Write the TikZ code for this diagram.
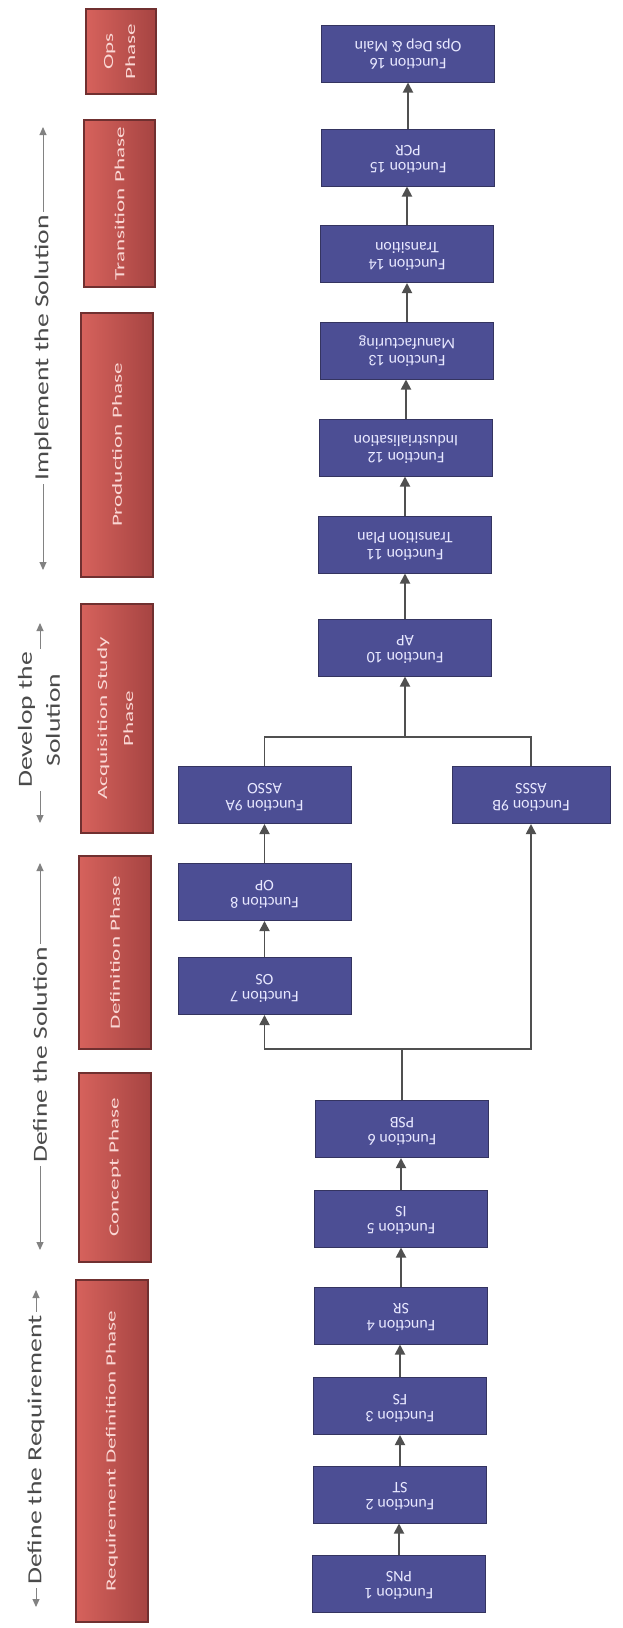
\documentclass[tikz,border=0pt]{standalone}
\usepackage{graphicx}
\usepackage{fontspec}
\setmainfont{Carlito}
\usetikzlibrary{arrows.meta}
\definecolor{fnblue}{RGB}{76,78,148}
\definecolor{fnedge}{RGB}{52,52,96}
\definecolor{fntext}{RGB}{232,232,255}
\definecolor{phlight}{RGB}{214,98,92}
\definecolor{phdark}{RGB}{166,68,66}
\definecolor{phedge}{RGB}{112,48,48}
\definecolor{phtext}{RGB}{250,215,212}
\definecolor{conncol}{RGB}{80,80,80}
\definecolor{seccol}{RGB}{75,75,75}
\definecolor{secline}{RGB}{130,130,130}
\newcommand{\fntxt}[2]{\rotatebox{180}{\begin{tabular}{@{}c@{}}#1\\#2\end{tabular}}}
\newcommand{\phtxt}[1]{\rotatebox{90}{\scalebox{1.65}[1]{#1}}}
\newcommand{\sectxt}[1]{\rotatebox{90}{\scalebox{1.38}[1]{#1}}}
\begin{document}
\begin{tikzpicture}[x=1pt,y=-1pt,
  fnbox/.style={draw=fnedge, fill=fnblue, line width=1pt, minimum width=173pt, minimum height=57pt, inner sep=0pt, text=fntext, font=\fontsize{16}{17}\selectfont},
  phbox/.style={draw=phedge, line width=1.2pt, left color=phlight, right color=phdark, inner sep=0pt, text=phtext, font=\fontsize{14}{16}\selectfont},
  seclabel/.style={fill=white, text=seccol, inner sep=3pt, font=\fontsize{20}{24}\selectfont},
  secarrow/.style={draw=secline, line width=1pt, {Triangle[length=8pt,width=7pt]}-{Triangle[length=8pt,width=7pt]}},
  conn/.style={draw=conncol, line width=1.8pt, -{Triangle[length=10pt,width=10pt]}},
  link/.style={draw=conncol, line width=1.8pt}]
\fill[white] (0,0) rectangle (622,1628);
\useasboundingbox (0,0) rectangle (622,1628);

% phase boxes
\node[phbox, minimum width=70pt, minimum height=85pt] (P7) at (121,51.5) {\phtxt{\begin{tabular}{@{}c@{}}Ops\\[6pt]Phase\end{tabular}}};
\node[phbox, minimum width=71pt, minimum height=167pt] (P6) at (119.5,203.5) {\phtxt{Transition Phase}};
\node[phbox, minimum width=72pt, minimum height=264pt] (P5) at (117,445) {\phtxt{Production Phase}};
\node[phbox, minimum width=72pt, minimum height=229pt] (P4) at (117,718.5) {\phtxt{\begin{tabular}{@{}c@{}}Acquisition Study\\[10pt]Phase\end{tabular}}};
\node[phbox, minimum width=72pt, minimum height=193pt] (P3) at (115,952.5) {\phtxt{Definition Phase}};
\node[phbox, minimum width=72pt, minimum height=189pt] (P2) at (115,1167.5) {\phtxt{Concept Phase}};
\node[phbox, minimum width=72pt, minimum height=342pt] (P1) at (112,1451) {\phtxt{Requirement Definition Phase}};

% section labels
\coordinate (S4t) at (43,127); \coordinate (S4b) at (43,570);
\draw[secarrow] (S4t) -- (S4b);
\node[seclabel] (S4) at (43,348) {\sectxt{Implement the Solution}};
\coordinate (S3t) at (40,623); \coordinate (S3b) at (40,823);
\draw[secarrow] (S3t) -- (S3b);
\node[seclabel] (S3) at (41,720) {\sectxt{\begin{tabular}{@{}c@{}}Develop the\\[4pt]Solution\end{tabular}}};
\coordinate (S2t) at (40,863); \coordinate (S2b) at (40,1250);
\draw[secarrow] (S2t) -- (S2b);
\node[seclabel] (S2) at (40,1055) {\sectxt{Define the Solution}};
\coordinate (S1t) at (36,1290); \coordinate (S1b) at (36,1607);
\draw[secarrow] (S1t) -- (S1b);
\node[seclabel] (S1) at (36,1450) {\sectxt{Define the Requirement}};

% function boxes
\node[fnbox] (F16) at (408,53.5) {\fntxt{Function 16}{Ops Dep \& Main}};
\node[fnbox] (F15) at (408,157.5) {\fntxt{Function 15}{PCR}};
\node[fnbox] (F14) at (407,254) {\fntxt{Function 14}{Transition}};
\node[fnbox] (F13) at (407,350.5) {\fntxt{Function 13}{Manufacturing}};
\node[fnbox] (F12) at (406,447.5) {\fntxt{Function 12}{Industrialisation}};
\node[fnbox] (F11) at (405,544.5) {\fntxt{Function 11}{Transition Plan}};
\node[fnbox] (F10) at (405,647.5) {\fntxt{Function 10}{AP}};
\node[fnbox] (F9A) at (264.5,795) {\fntxt{Function 9A}{ASSO}};
\node[fnbox, minimum width=158pt] (F9B) at (531,795) {\fntxt{Function 9B}{ASSS}};
\node[fnbox] (F8) at (264.5,892) {\fntxt{Function 8}{OP}};
\node[fnbox] (F7) at (264.5,986) {\fntxt{Function 7}{OS}};
\node[fnbox] (F6) at (402,1129) {\fntxt{Function 6}{PSB}};
\node[fnbox] (F5) at (401,1218.5) {\fntxt{Function 5}{IS}};
\node[fnbox] (F4) at (401,1315.5) {\fntxt{Function 4}{SR}};
\node[fnbox] (F3) at (400,1406) {\fntxt{Function 3}{FS}};
\node[fnbox] (F2) at (400,1494.5) {\fntxt{Function 2}{ST}};
\node[fnbox] (F1) at (399,1583.5) {\fntxt{Function 1}{PNS}};

% connectors
\draw[conn] (F1.north) -- (F1.north |- F2.south);
\draw[conn] (F2.north) -- (F2.north |- F3.south);
\draw[conn] (F3.north) -- (F3.north |- F4.south);
\draw[conn] (F4.north) -- (F4.north |- F5.south);
\draw[conn] (F5.north) -- (F5.north |- F6.south);
\coordinate (jlow) at (402,1049);
\draw[link] (F6.north) -- (jlow);
\draw[conn] (jlow) -| (F7.south);
\draw[conn] (jlow) -| (F9B.south);
\draw[conn] (F7.north) -- (F8.south);
\draw[conn] (F8.north) -- (F9A.south);
\coordinate (jup) at (405,737);
\draw[link] (F9A.north) |- (jup);
\draw[link] (F9B.north) |- (jup);
\draw[conn] (jup) -- (F10.south);
\draw[conn] (F10.north) -- (F10.north |- F11.south);
\draw[conn] (F11.north) -- (F11.north |- F12.south);
\draw[conn] (F12.north) -- (F12.north |- F13.south);
\draw[conn] (F13.north) -- (F13.north |- F14.south);
\draw[conn] (F14.north) -- (F14.north |- F15.south);
\draw[conn] (F15.north) -- (F15.north |- F16.south);
\end{tikzpicture}
\end{document}
